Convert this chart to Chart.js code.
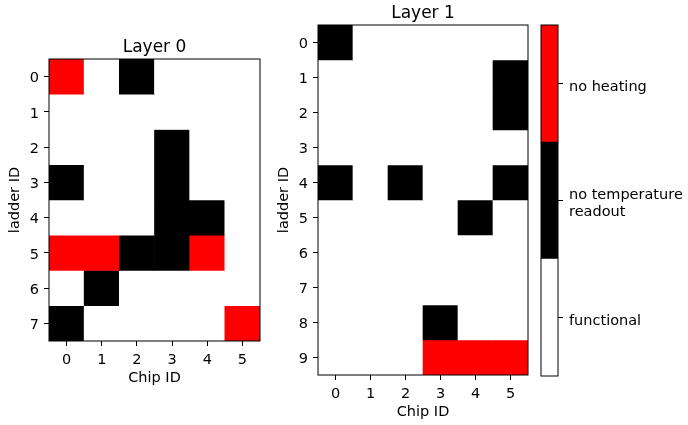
<!DOCTYPE html>
<html>
<head>
<meta charset="utf-8">
<script src="https://cdn.jsdelivr.net/npm/chart.js@4/dist/chart.umd.min.js"></script>
<style>
  body { margin: 0; background: #fff; }
  #wrap { position: relative; width: 688px; height: 425px; overflow: hidden; }
  canvas { position: absolute; top: 0; }
</style>
</head>
<body>
<div id="wrap">
  <canvas id="layer0" width="270" height="425" style="left:0px"></canvas>
  <canvas id="layer1" width="270" height="425" style="left:270px"></canvas>
  <canvas id="cbar" width="148" height="425" style="left:540px"></canvas>
</div>
<script>
'use strict';

/***** DATA *****/
// 0 = functional, 1 = no temperature readout, 2 = no heating
var chipIds = ['0', '1', '2', '3', '4', '5'];
var layer0Ladders = [0, 1, 2, 3, 4, 5, 6, 7];
var layer1Ladders = [0, 1, 2, 3, 4, 5, 6, 7, 8, 9];
var layer0Status = [
   [2, 0, 1, 0, 0, 0],
   [0, 0, 0, 0, 0, 0],
   [0, 0, 0, 1, 0, 0],
   [1, 0, 0, 1, 0, 0],
   [0, 0, 0, 1, 1, 0],
   [2, 2, 1, 1, 2, 0],
   [0, 1, 0, 0, 0, 0],
   [1, 0, 0, 0, 0, 2]
];
var layer1Status = [
   [1, 0, 0, 0, 0, 0],
   [0, 0, 0, 0, 0, 1],
   [0, 0, 0, 0, 0, 1],
   [0, 0, 0, 0, 0, 0],
   [1, 0, 1, 0, 0, 1],
   [0, 0, 0, 0, 1, 0],
   [0, 0, 0, 0, 0, 0],
   [0, 0, 0, 0, 0, 0],
   [0, 0, 0, 1, 0, 0],
   [0, 0, 0, 2, 2, 2]
];
var statusCodes = [0, 1, 2];
var statusLabels = ['functional', ['no temperature', 'readout'], 'no heating'];

/***** STYLE *****/
var palette = ['#ffffff', '#000000', '#ff0000'];
var FONT = 'DejaVu Sans';
var tickFont = { family: FONT, size: 14.5 };

Chart.defaults.font.family = FONT;
Chart.defaults.color = '#000';
Chart.defaults.animation = false;

// draw the box round the plot area like matplotlib spines
var frame = {
   id: 'frame',
   afterDraw: function (chart) {
      var ctx = chart.ctx, a = chart.chartArea;
      ctx.save();
      ctx.strokeStyle = '#000';
      ctx.lineWidth = 1;
      ctx.strokeRect(a.left, a.top, a.right - a.left, a.bottom - a.top);
      ctx.restore();
   }
};

// title centred over the plot area (the built-in one centres over the whole canvas)
var panelTitle = {
   id: 'panelTitle',
   afterDraw: function (chart, args, opts) {
      if (!opts.text) return;
      var ctx = chart.ctx, a = chart.chartArea;
      ctx.save();
      ctx.font = '17px "' + FONT + '"';
      ctx.fillStyle = '#000';
      ctx.textAlign = 'center';
      ctx.textBaseline = 'alphabetic';
      ctx.fillText(opts.text, (a.left + a.right) / 2, a.top - 7);
      ctx.restore();
   }
};

function cellDatasets (ladders, status) {
   return ladders.map(function (r) {
      return {
         data: chipIds.map(function () { return [r - 0.5, r + 0.5]; }),
         backgroundColor: chipIds.map(function (c, i) { return palette[status[r][i]]; }),
         borderWidth: 0,
         grouped: false,
         barPercentage: 1,
         categoryPercentage: 1
      };
   });
}

function heatmap (id, title, ladders, status, lay) {
   return new Chart(document.getElementById(id), {
      type: 'bar',
      data: { labels: chipIds, datasets: cellDatasets(ladders, status) },
      plugins: [frame, panelTitle],
      options: {
         responsive: false,
         layout: { padding: lay.padding },
         plugins: {
            legend: { display: false },
            tooltip: { enabled: false },
            panelTitle: { text: title }
         },
         scales: {
            x: {
               type: 'category',
               offset: true,
               grid: { offset: false, drawOnChartArea: false, tickLength: 5, tickColor: '#000' },
               border: { display: false },
               ticks: { font: tickFont, padding: 6, color: '#000', maxRotation: 0 },
               title: { display: true, text: 'Chip ID', font: tickFont, color: '#000', padding: { top: 0, bottom: 4.3 } },
               afterFit: function (s) { s.height = 50; }
            },
            y: {
               type: 'linear',
               reverse: true,
               min: -0.5,
               max: ladders.length - 0.5,
               afterBuildTicks: function (s) {
                  s.ticks = ladders.map(function (v) { return { value: v }; });
               },
               grid: { drawOnChartArea: false, tickLength: 5, tickColor: '#000' },
               border: { display: false },
               ticks: { font: tickFont, padding: 5, color: '#000', labelOffset: 2 },
               title: { display: true, text: 'ladder ID', font: tickFont, color: '#000', padding: { top: lay.yTitlePad, bottom: 0 } },
               afterFit: function (s) { s.width = lay.yWidth; }
            }
         }
      }
   });
}

heatmap('layer0', 'Layer 0', layer0Ladders, layer0Status, {
   padding: { left: 0, right: 10, top: 59, bottom: 34 },
   yTitlePad: 6.3, yWidth: 49
});

heatmap('layer1', 'Layer 1', layer1Ladders, layer1Status, {
   padding: { left: 0, right: 12, top: 25, bottom: 0 },
   yTitlePad: 5.3, yWidth: 48
});

/***** COLORBAR *****/
new Chart(document.getElementById('cbar'), {
   type: 'bar',
   data: {
      labels: [''],
      datasets: statusCodes.map(function (s) {
         return {
            data: [[s - 0.5, s + 0.5]],
            backgroundColor: palette[s],
            borderWidth: 0,
            grouped: false,
            barPercentage: 1,
            categoryPercentage: 1
         };
      })
   },
   plugins: [frame],
   options: {
      responsive: false,
      layout: { padding: { left: 1, right: 0, top: 25, bottom: 49 } },
      plugins: { legend: { display: false }, tooltip: { enabled: false } },
      scales: {
         x: { display: false, offset: true },
         y: {
            type: 'linear',
            position: 'right',
            min: -0.5,
            max: 2.5,
            afterBuildTicks: function (s) {
               s.ticks = statusCodes.map(function (v) { return { value: v }; });
            },
            grid: { drawOnChartArea: false, tickLength: 5, tickColor: '#000' },
            border: { display: false },
            ticks: {
               font: { family: FONT, size: 14.5, lineHeight: 1.15 },
               padding: 6, color: '#000', crossAlign: 'near', labelOffset: 3.5,
               callback: function (v) { return statusLabels[v]; }
            },
            afterFit: function (s) { s.width = 130; }
         }
      }
   }
});
</script>
</body>
</html>
